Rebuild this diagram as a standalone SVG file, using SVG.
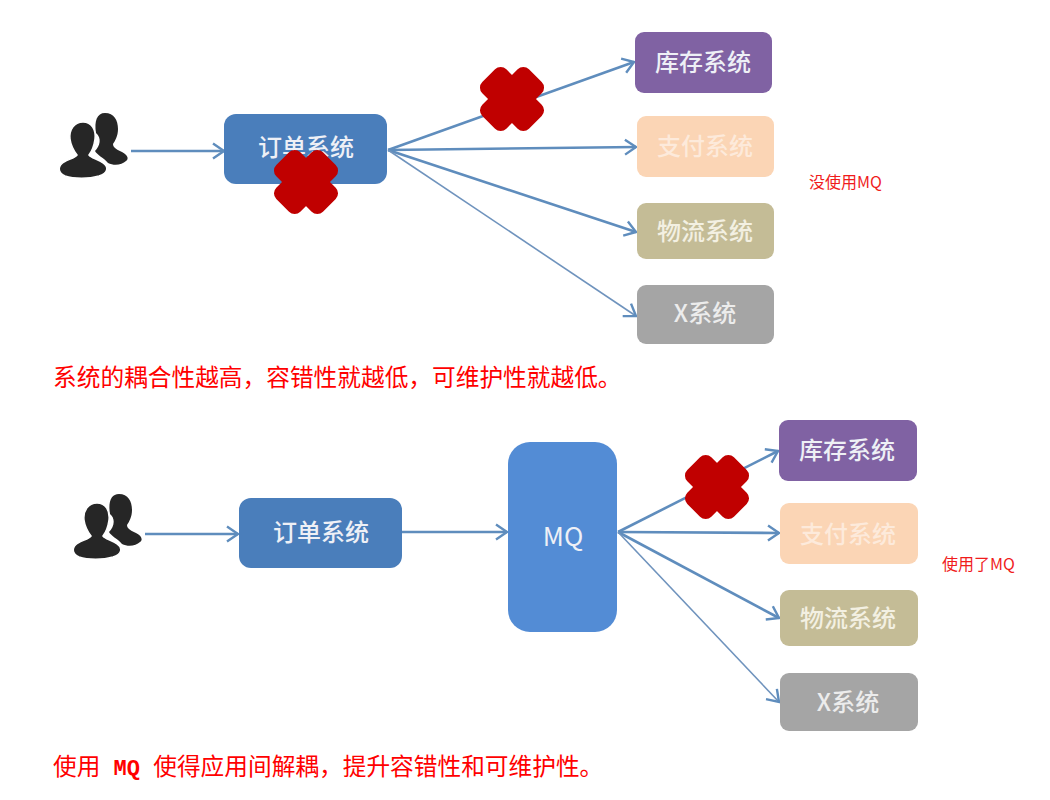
<svg xmlns="http://www.w3.org/2000/svg" width="1050" height="800" viewBox="0 0 1050 800">
  <style>
    text { font-family: "Noto Sans CJK SC", "Liberation Sans", sans-serif; }
    .box-label { font-size: 24px; font-weight: 500; text-anchor: middle; fill: #eef0f6; }
    .on-peach { fill: #fdeadb; }
    .on-khaki { fill: #f3f0e2; }
    .on-grey { fill: #ececec; }
    .note { font-size: 16px; fill: #f01c1c; }
    .caption { font-size: 23.7px; fill: #ff0000; }
    .mono { font-family: "Liberation Mono", monospace; font-size: 22px; font-weight: bold; }
    .link { fill: none; stroke: #5f8dbd; stroke-width: 2.6; marker-end: url(#chevron); }
    .thin { stroke-width: 1.6; stroke: #6f93bd; }
    .order { fill: #4a7ebb; }
    .stock { fill: #8062a3; }
    .pay { fill: #fbd5b5; }
    .ship { fill: #c4bc96; }
    .other { fill: #a5a5a5; }
    .mq { fill: #538cd5; }
  </style>
  <defs>
    <marker id="chevron" markerUnits="userSpaceOnUse" markerWidth="24" markerHeight="24" refX="15" refY="12" orient="auto">
      <path d="M4 4.5 L15 12 L4 19.5" fill="none" stroke="#5f8dbd" stroke-width="2.4"/>
    </marker>
    <g id="cross" fill="#c00000">
      <rect x="-33" y="-17" width="66" height="34" rx="8" transform="rotate(45)"/>
      <rect x="-33" y="-17" width="66" height="34" rx="8" transform="rotate(-45)"/>
    </g>
    <g id="people" fill="#262626">
      <path d="M105 113 C114 113 118 120 118 129 C118 136 115 141 113 144 C113 148 118 150 122 152 C128 155 129 159 126 161 C122 165 114 166 108 163 C104 158 97 155 95 151 C100 146 102 138 96 133 C94 121 97 113 105 113 Z"/>
      <path d="M83 122 C92 122 96 130 95 139 C94 146 92 151 89 155 C91 158 98 159 103 163 C109 167 108 173 99 176 C89 179 74 179 65 176 C57 172 58 166 64 162 C69 159 75 158 77 155 C74 151 71 146 70 139 C69 130 74 122 83 122 Z" stroke="#ffffff" stroke-width="1.5"/>
    </g>
  </defs>

  <g id="connectors">
    <line class="link" x1="131" y1="151" x2="224" y2="151"/>
    <line class="link" x1="388" y1="150" x2="634" y2="62"/>
    <line class="link" x1="388" y1="150" x2="636" y2="147"/>
    <line class="link" x1="388" y1="150" x2="636" y2="232"/>
    <line class="link thin" x1="388" y1="150" x2="636" y2="316"/>
    <line class="link" x1="145" y1="534" x2="238" y2="534"/>
    <line class="link" x1="402" y1="532" x2="507" y2="532"/>
    <line class="link" x1="618" y1="532" x2="778" y2="451"/>
    <line class="link" x1="618" y1="532" x2="779" y2="533"/>
    <line class="link" x1="618" y1="532" x2="779" y2="618"/>
    <line class="link thin" x1="618" y1="532" x2="779" y2="702"/>
  </g>

  <g id="users-a"><use href="#people"/></g>
  <g id="order-a">
    <rect class="order" x="224" y="114" width="163" height="70" rx="12"/>
    <text class="box-label" x="306" y="156">订单系统</text>
  </g>
  <g id="stock-a">
    <rect class="stock" x="635" y="32" width="137" height="61" rx="9"/>
    <text class="box-label" x="703" y="71">库存系统</text>
  </g>
  <g id="pay-a">
    <rect class="pay" x="637" y="116" width="137" height="61" rx="9"/>
    <text class="box-label on-peach" x="705" y="155">支付系统</text>
  </g>
  <g id="ship-a">
    <rect class="ship" x="637" y="203" width="137" height="56" rx="9"/>
    <text class="box-label on-khaki" x="705" y="240">物流系统</text>
  </g>
  <g id="other-a">
    <rect class="other" x="637" y="285" width="137" height="59" rx="9"/>
    <text class="box-label on-grey" x="705" y="322">X系统</text>
  </g>

  <g id="users-b"><use href="#people" x="14" y="381"/></g>
  <g id="order-b">
    <rect class="order" x="239" y="498" width="163" height="70" rx="12"/>
    <text class="box-label" x="321" y="541">订单系统</text>
  </g>
  <g id="mq">
    <rect class="mq" x="508" y="442" width="109" height="190" rx="22"/>
    <text class="box-label" x="563" y="546" style="font-size:26px;font-weight:400">MQ</text>
  </g>
  <g id="stock-b">
    <rect class="stock" x="779" y="420" width="138" height="61" rx="9"/>
    <text class="box-label" x="847" y="459">库存系统</text>
  </g>
  <g id="pay-b">
    <rect class="pay" x="780" y="503" width="138" height="61" rx="9"/>
    <text class="box-label on-peach" x="848" y="543">支付系统</text>
  </g>
  <g id="ship-b">
    <rect class="ship" x="780" y="590" width="138" height="56" rx="9"/>
    <text class="box-label on-khaki" x="848" y="627">物流系统</text>
  </g>
  <g id="other-b">
    <rect class="other" x="780" y="673" width="138" height="58" rx="9"/>
    <text class="box-label on-grey" x="848" y="711">X系统</text>
  </g>

  <g id="blocked-marks">
    <use href="#cross" x="306" y="182"/>
    <use href="#cross" x="512" y="99"/>
    <use href="#cross" x="717" y="487"/>
  </g>

  <g id="notes">
    <text class="note" x="809" y="188">没使用MQ</text>
    <text class="note" x="942" y="570">使用了MQ</text>
    <text class="caption" x="53" y="386">系统的耦合性越高，容错性就越低，可维护性就越低。</text>
    <text class="caption" x="53" y="775" xml:space="preserve">使用<tspan class="mono" xml:space="preserve"> MQ </tspan>使得应用间解耦，提升容错性和可维护性。</text>
  </g>
</svg>
